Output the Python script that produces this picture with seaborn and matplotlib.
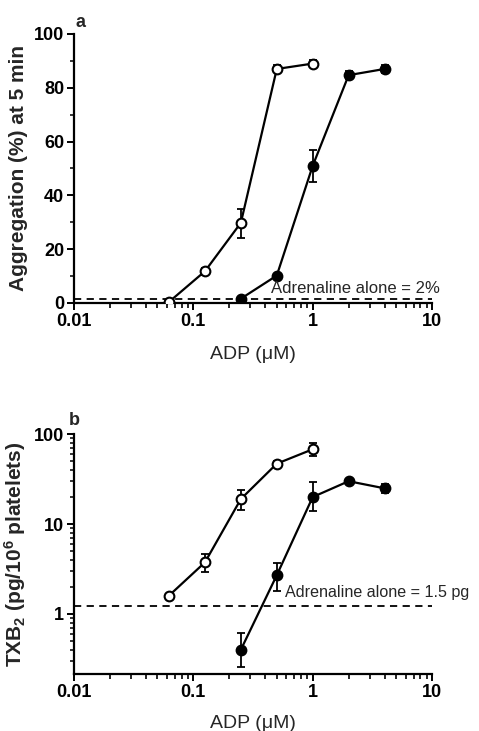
import numpy as np
import pandas as pd
import matplotlib
matplotlib.use("Agg")
import matplotlib.pyplot as plt
import matplotlib.ticker as mticker
import seaborn as sns

# ADP concentrations (uM)
adp_open = [0.0625, 0.125, 0.25, 0.5, 1.0]
adp_filled = [0.25, 0.5, 1.0, 2.0, 4.0]

# panel a: aggregation (%) at 5 min
agg_open = [0.4, 11.8, 29.8, 87.0, 89.0]
agg_open_lo = [0.4, 10.5, 24.3, 85.8, 87.6]
agg_open_hi = [0.4, 13.0, 34.8, 88.3, 90.5]
agg_filled = [1.6, 10.2, 51.0, 84.7, 87.0]
agg_filled_lo = [1.6, 10.2, 44.8, 83.3, 85.6]
agg_filled_hi = [1.6, 10.2, 57.0, 86.1, 88.4]
agg_adrenaline = 1.5

# panel b: TXB2 (pg/10^6 platelets)
txb_open = [1.6, 3.75, 19.0, 47.0, 68.0]
txb_open_lo = [1.6, 2.9, 14.3, 44.0, 57.0]
txb_open_hi = [1.6, 4.7, 23.9, 50.5, 80.0]
txb_filled = [0.4, 2.7, 20.0, 30.0, 25.0]
txb_filled_lo = [0.26, 1.8, 13.9, 28.0, 22.0]
txb_filled_hi = [0.61, 3.7, 29.5, 32.0, 28.0]
txb_adrenaline = 1.24

sns.set_style("ticks")
plt.rcParams["font.family"] = ["Liberation Sans", "DejaVu Sans"]
plt.rcParams["mathtext.default"] = "regular"
plt.rcParams["xtick.minor.visible"] = True

fig = plt.figure(figsize=(4.79, 7.31), dpi=100)
ax_a = fig.add_axes([0.1545, 0.5855, 0.7475, 0.368])
ax_b = fig.add_axes([0.1545, 0.078, 0.7475, 0.328])


def log_minors(lo_exp, hi_exp):
    return [k * 10.0 ** e for e in range(lo_exp, hi_exp) for k in range(2, 10)]


def draw_series(ax, x, y, lo, hi, face):
    df = pd.DataFrame({"x": x, "y": y})
    yerr = [np.array(y) - np.array(lo), np.array(hi) - np.array(y)]
    ax.errorbar(x, y, yerr=yerr, fmt="none", ecolor="black", elinewidth=1.3,
                capsize=3, capthick=1.3, zorder=2)
    sns.lineplot(data=df, x="x", y="y", ax=ax, color="black", linewidth=1.6,
                 marker="o", markersize=7, markerfacecolor=face,
                 markeredgecolor="black", markeredgewidth=1.5, zorder=3)


def style_axis(ax, xpad):
    ax.set_xscale("log")
    ax.set_xlim(0.01, 10)
    ax.xaxis.set_major_locator(mticker.FixedLocator([0.01, 0.1, 1, 10]))
    ax.xaxis.set_minor_locator(mticker.FixedLocator(log_minors(-2, 1)))
    ax.xaxis.set_minor_formatter(mticker.NullFormatter())
    ax.xaxis.set_major_formatter(mticker.FuncFormatter(lambda v, p: f"{v:g}"))
    sns.despine(ax=ax)
    for s in ["left", "bottom"]:
        ax.spines[s].set_linewidth(1.6)
        ax.spines[s].set_color("black")
    ax.tick_params(which="major", length=5, width=1.4, labelsize=13, colors="black", pad=2)
    ax.tick_params(axis="x", which="minor", bottom=True, length=3.5, width=1.2, color="black")
    ax.tick_params(axis="y", which="minor", left=True, length=3, width=1.1, color="black")
    for lab in ax.get_xticklabels() + ax.get_yticklabels():
        lab.set_fontweight("bold")
    ax.set_xlabel("ADP (\u03bcM)", fontsize=14, labelpad=xpad)


# panel a
draw_series(ax_a, adp_open, agg_open, agg_open_lo, agg_open_hi, "white")
draw_series(ax_a, adp_filled, agg_filled, agg_filled_lo, agg_filled_hi, "black")
ax_a.axhline(agg_adrenaline, color="black", linestyle="--", linewidth=1.3, dashes=(4, 3))
ax_a.set_ylim(0, 100)
ax_a.set_yticks([0, 20, 40, 60, 80, 100])
ax_a.yaxis.set_minor_locator(mticker.MultipleLocator(10))
style_axis(ax_a, 12)
ax_a.set_ylabel("Aggregation (%) at 5 min", fontsize=15, fontweight="bold", labelpad=4)
ax_a.text(0.448, 3.7, "Adrenaline alone = 2%", fontsize=12, ha="left", va="baseline")
ax_a.text(0.005, 1.025, "a", transform=ax_a.transAxes, fontsize=13, fontweight="bold")

# panel b
draw_series(ax_b, adp_open, txb_open, txb_open_lo, txb_open_hi, "white")
draw_series(ax_b, adp_filled, txb_filled, txb_filled_lo, txb_filled_hi, "black")
ax_b.axhline(txb_adrenaline, color="black", linestyle="--", linewidth=1.3, dashes=(4, 3))
ax_b.set_yscale("log")
ax_b.set_ylim(0.215, 100)
ax_b.yaxis.set_major_locator(mticker.FixedLocator([1, 10, 100]))
ax_b.yaxis.set_minor_locator(mticker.FixedLocator(log_minors(-1, 2)))
ax_b.yaxis.set_minor_formatter(mticker.NullFormatter())
ax_b.yaxis.set_major_formatter(mticker.FuncFormatter(lambda v, p: f"{v:g}"))
style_axis(ax_b, 10)
ax_b.set_ylabel("TXB$_2$ (pg/10$^6$ platelets)", fontsize=15, fontweight="bold", labelpad=4)
ax_b.text(0.585, 1.55, "Adrenaline alone = 1.5 pg", fontsize=11.6, ha="left", va="baseline")
ax_b.text(-0.015, 1.04, "b", transform=ax_b.transAxes, fontsize=13, fontweight="bold")

fig.savefig("out.png", dpi=100)
